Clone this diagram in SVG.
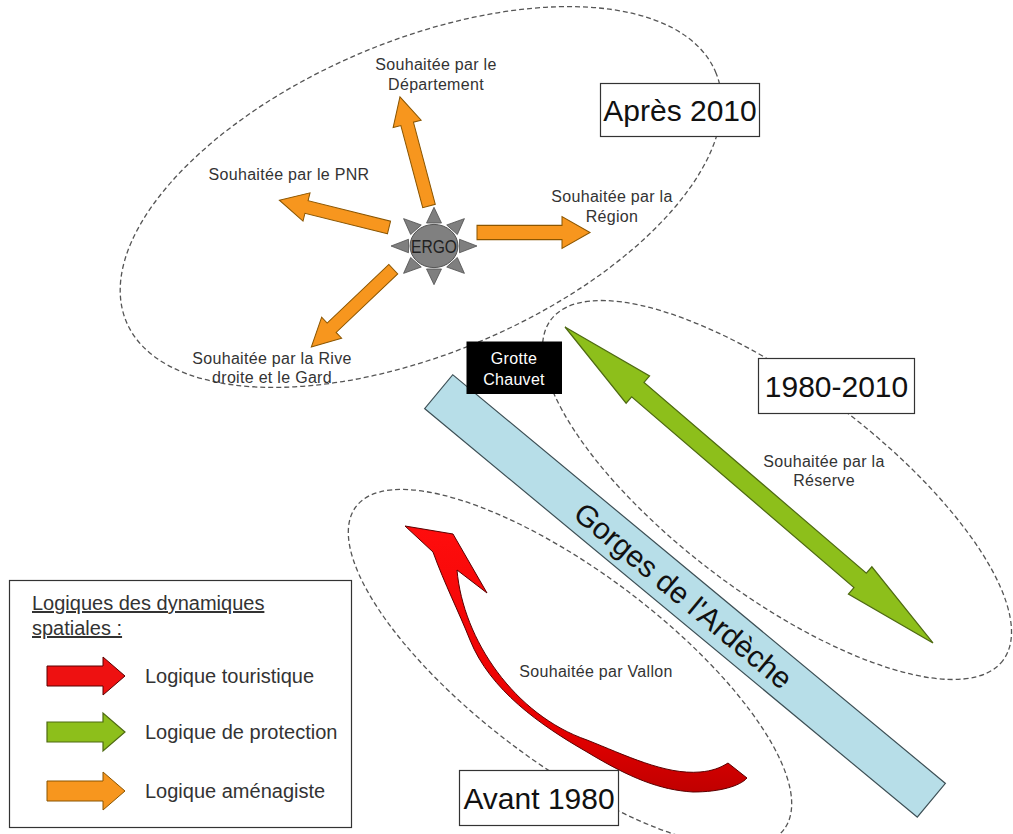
<svg xmlns="http://www.w3.org/2000/svg" xmlns:xlink="http://www.w3.org/1999/xlink" width="1013" height="834" viewBox="0 0 1013 834">
  <style>
    .zone { fill: none; stroke: #555; stroke-width: 1.3; stroke-dasharray: 5 3; }
    .period { fill: #fff; stroke: #333; stroke-width: 1.2; }
    .period-text { font-family: "Liberation Sans", Arial, sans-serif; font-size: 30px; fill: #111; text-anchor: middle; }
    .lbl { font-family: "Liberation Sans", Arial, sans-serif; font-size: 16px; fill: #333; text-anchor: middle; letter-spacing: 0.3px; }
    .orange { fill: #f7961e; stroke: #8a5500; stroke-width: 1; }
    .green { fill: #8dbf1b; stroke: #4e6a12; stroke-width: 1.2; }
    .red { fill: #ee1111; stroke: #5a0000; stroke-width: 1; }
    .ray { fill: #7f7f7f; stroke: #4d4d4d; stroke-width: 0.8; }
    .legend-text { font-family: "Liberation Sans", Arial, sans-serif; font-size: 20px; fill: #333; }
  </style>
  <defs>
    <path id="orange-arrow" d="M0,-6.5 H85 V-14.5 L113,0 L85,14.5 V6.5 H0 Z"/>
    <path id="legend-arrow" d="M0,-10 H56 V-19 L78,0 L56,19 V10 H0 Z"/>
    <polygon id="sun-ray" points="-7.5,-25.5 7.5,-25.5 0,-43"/>
    <linearGradient id="red-grad" x1="0" y1="0" x2="0" y2="1">
      <stop offset="0" stop-color="#ff0d0d"/>
      <stop offset="0.75" stop-color="#e80000"/>
      <stop offset="1" stop-color="#c00000"/>
    </linearGradient>
  </defs>

  <rect width="1013" height="834" fill="#fff"/>

  <!-- period zones -->
  <g id="zones">
    <ellipse id="zone-apres-2010" class="zone" cx="421" cy="197" rx="320" ry="156" transform="rotate(-23 421 197)"/>
    <ellipse id="zone-1980-2010" class="zone" cx="777" cy="490" rx="283" ry="104" transform="rotate(37 777 490)"/>
    <ellipse id="zone-avant-1980" class="zone" cx="570" cy="668" rx="268" ry="96" transform="rotate(37 570 668)"/>
  </g>

  <!-- the river gorge -->
  <g id="gorges">
    <rect x="0" y="-22" width="640" height="44" fill="#b7dee8" stroke="#3d4f55" stroke-width="1.2" transform="translate(438.7 391.7) rotate(39.67)"/>
    <text class="period-text" transform="translate(683 596) rotate(39.67)" y="10">Gorges de l'Ardèche</text>
  </g>

  <g id="connectors">
    <!-- protection: double arrow -->
    <polygon id="arrow-protection" class="green" transform="translate(565 327) rotate(40.65)"
      points="0,0 96,-18 96,-9.5 389,-9.5 389,-18 485,0 389,18 389,9.5 96,9.5 96,18"/>
    <!-- tourism: curved arrow -->
    <path id="arrow-tourisme" fill="url(#red-grad)" stroke="#5a0000" stroke-width="1"
      d="M405,526 L453,534 L487,593 L457,570 C463,640 515,715 587,740 C625,755 665,775 700,772 C712,771 720,768 728,763 L747,778 C740,786 720,792 693,792 C660,790 630,778 587,752 C540,725 490,690 470,640 C458,610 445,585 433,552 Z"/>
    <!-- planning arrows out of the ERGO -->
    <use xlink:href="#orange-arrow" class="orange" transform="translate(429 206) rotate(-104.9)"/>
    <use xlink:href="#orange-arrow" class="orange" transform="translate(389 227.5) rotate(-166)"/>
    <use xlink:href="#orange-arrow" class="orange" transform="translate(477 232.5) scale(1 1.1)"/>
    <use xlink:href="#orange-arrow" class="orange" transform="translate(393.3 269.2) rotate(136.5)"/>
  </g>

  <!-- ERGO sun -->
  <g id="ergo" transform="translate(434 246) scale(1 0.9)">
    <circle cx="0" cy="0" r="24" fill="#808080" stroke="#4d4d4d" stroke-width="1"/>
    <text x="0" y="7" font-family="'Liberation Sans', Arial, sans-serif" font-size="18" fill="#222" text-anchor="middle" textLength="46" lengthAdjust="spacingAndGlyphs" transform="scale(1 1.1)">ERGO</text>
    <use xlink:href="#sun-ray" class="ray"/>
    <use xlink:href="#sun-ray" class="ray" transform="rotate(45)"/>
    <use xlink:href="#sun-ray" class="ray" transform="rotate(90)"/>
    <use xlink:href="#sun-ray" class="ray" transform="rotate(135)"/>
    <use xlink:href="#sun-ray" class="ray" transform="rotate(180)"/>
    <use xlink:href="#sun-ray" class="ray" transform="rotate(225)"/>
    <use xlink:href="#sun-ray" class="ray" transform="rotate(270)"/>
    <use xlink:href="#sun-ray" class="ray" transform="rotate(315)"/>
  </g>

  <!-- arrow labels -->
  <g id="labels">
    <text class="lbl" x="436" y="70">Souhaitée par le</text>
    <text class="lbl" x="436" y="90">Département</text>
    <text class="lbl" x="289" y="180">Souhaitée par le PNR</text>
    <text class="lbl" x="612" y="202">Souhaitée par la</text>
    <text class="lbl" x="612" y="222">Région</text>
    <text class="lbl" x="272" y="364">Souhaitée par la Rive</text>
    <text class="lbl" x="272" y="383">droite et le Gard</text>
    <text class="lbl" x="824" y="467">Souhaitée par la</text>
    <text class="lbl" x="824" y="486">Réserve</text>
    <text class="lbl" x="596" y="677">Souhaitée par Vallon</text>
  </g>

  <g id="grotte-chauvet">
    <rect x="466.5" y="341.5" width="95.5" height="52.5" fill="#000"/>
    <text class="lbl" x="514" y="364" style="fill:#fff">Grotte</text>
    <text class="lbl" x="514" y="385" style="fill:#fff">Chauvet</text>
  </g>

  <g id="period-apres-2010">
    <rect class="period" x="600.5" y="83.5" width="159" height="53"/>
    <text class="period-text" x="680" y="121">Après 2010</text>
  </g>
  <g id="period-1980-2010">
    <rect class="period" x="758.5" y="358.5" width="156" height="55"/>
    <text class="period-text" x="836.5" y="397">1980-2010</text>
  </g>
  <g id="period-avant-1980">
    <rect class="period" x="459.5" y="770.5" width="159" height="55"/>
    <text class="period-text" x="539" y="809">Avant 1980</text>
  </g>

  <!-- legend -->
  <g id="legend">
    <rect x="9.5" y="580.5" width="342" height="247" fill="#fff" stroke="#333" stroke-width="1.2"/>
    <text class="legend-text" x="32" y="610" text-decoration="underline">Logiques des dynamiques</text>
    <text class="legend-text" x="32" y="635" text-decoration="underline">spatiales :</text>
    <use xlink:href="#legend-arrow" class="red" transform="translate(47 676)"/>
    <text class="legend-text" x="145" y="683">Logique touristique</text>
    <use xlink:href="#legend-arrow" class="green" transform="translate(47 732)"/>
    <text class="legend-text" x="145" y="739">Logique de protection</text>
    <use xlink:href="#legend-arrow" class="orange" transform="translate(47 791)"/>
    <text class="legend-text" x="145" y="798">Logique aménagiste</text>
  </g>
</svg>
